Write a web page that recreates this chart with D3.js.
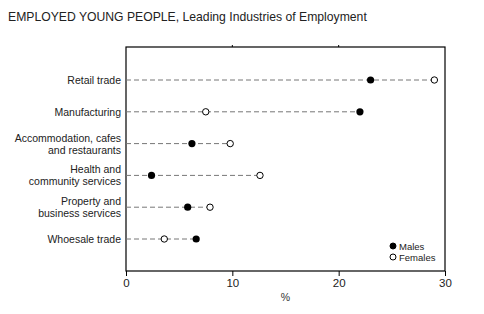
<!DOCTYPE html>
<html>
<head>
<meta charset="utf-8">
<script src="https://cdn.jsdelivr.net/npm/d3@7"></script>
<style>
  body { margin: 0; background: #fff; }
  svg { font-family: "Liberation Sans", Arial, sans-serif; }
</style>
</head>
<body>
<script>
const industries = [
  ["Retail trade"],
  ["Manufacturing"],
  ["Accommodation, cafes", "and restaurants"],
  ["Health and", "community services"],
  ["Property and", "business services"],
  ["Whoesale trade"]
];
const males = [23.0, 22.0, 6.2, 2.4, 5.8, 6.6];
const females = [29.0, 7.5, 9.8, 12.6, 7.9, 3.6];
const xTicks = [0, 10, 20, 30];

const W = 484, H = 314;
const plot = { left: 126, right: 445, top: 47, bottom: 271 };

const svg = d3.select("body").append("svg")
  .attr("width", W).attr("height", H);

svg.append("text")
  .attr("x", 8).attr("y", 21)
  .attr("font-size", 12.2)
  .attr("fill", "#222")
  .text("EMPLOYED YOUNG PEOPLE, Leading Industries of Employment");

const x = d3.scaleLinear().domain([0, 30]).range([plot.left, plot.right]);
const y = d3.scalePoint().domain(d3.range(industries.length))
  .range([80, 239]);

// frame
svg.append("rect")
  .attr("x", plot.left).attr("y", plot.top)
  .attr("width", plot.right - plot.left).attr("height", plot.bottom - plot.top)
  .attr("fill", "none").attr("stroke", "#000").attr("stroke-width", 1.2);

// bottom axis
const ax = svg.append("g")
  .attr("transform", `translate(0,${plot.bottom})`)
  .call(d3.axisBottom(x).tickValues(xTicks).tickSize(5).tickPadding(3));
ax.select(".domain").remove();
ax.selectAll("line").attr("stroke", "#000");
ax.selectAll("text").attr("font-size", 11.5).attr("fill", "#222")
  .attr("font-family", "Liberation Sans, Arial, sans-serif");

// top ticks
svg.append("g").selectAll("line").data(xTicks.slice(1, -1)).join("line")
  .attr("x1", d => x(d)).attr("x2", d => x(d))
  .attr("y1", plot.top).attr("y2", plot.top - 2)
  .attr("stroke", "#000");

svg.append("text")
  .attr("x", (plot.left + plot.right) / 2).attr("y", 301)
  .attr("text-anchor", "middle").attr("font-size", 10.5).attr("fill", "#333")
  .text("%");

// category labels
const lab = svg.append("g").selectAll("text").data(industries).join("text")
  .attr("text-anchor", "end")
  .attr("font-size", 10.5)
  .attr("fill", "#222")
  .attr("x", plot.left - 5)
  .attr("y", (d, i) => y(i) + 4 - (d.length - 1) * 6);
lab.selectAll("tspan").data(d => d).join("tspan")
  .attr("x", plot.left - 5)
  .attr("dy", (d, i) => i ? 12 : 0)
  .text(d => d);

// dashed leaders
svg.append("g").selectAll("line").data(industries).join("line")
  .attr("x1", x(0))
  .attr("x2", (d, i) => x(Math.max(males[i], females[i])))
  .attr("y1", (d, i) => y(i)).attr("y2", (d, i) => y(i))
  .attr("stroke", "#777").attr("stroke-width", 1)
  .attr("stroke-dasharray", "5,3");

// points
svg.append("g").selectAll("circle").data(females).join("circle")
  .attr("cx", d => x(d)).attr("cy", (d, i) => y(i))
  .attr("r", 3.2).attr("fill", "#fff").attr("stroke", "#000").attr("stroke-width", 1);
svg.append("g").selectAll("circle").data(males).join("circle")
  .attr("cx", d => x(d)).attr("cy", (d, i) => y(i))
  .attr("r", 3.6).attr("fill", "#000");

// legend
const legend = [["Males", "#000"], ["Females", "#fff"]];
const lg = svg.append("g").selectAll("g").data(legend).join("g")
  .attr("transform", (d, i) => `translate(393,${246 + i * 11})`);
lg.append("circle").attr("r", 3).attr("fill", d => d[1])
  .attr("stroke", "#000").attr("stroke-width", 1);
lg.append("text").attr("x", 6).attr("y", 3.5)
  .attr("font-size", 9.5).attr("fill", "#222")
  .text(d => d[0]);
</script>
</body>
</html>
